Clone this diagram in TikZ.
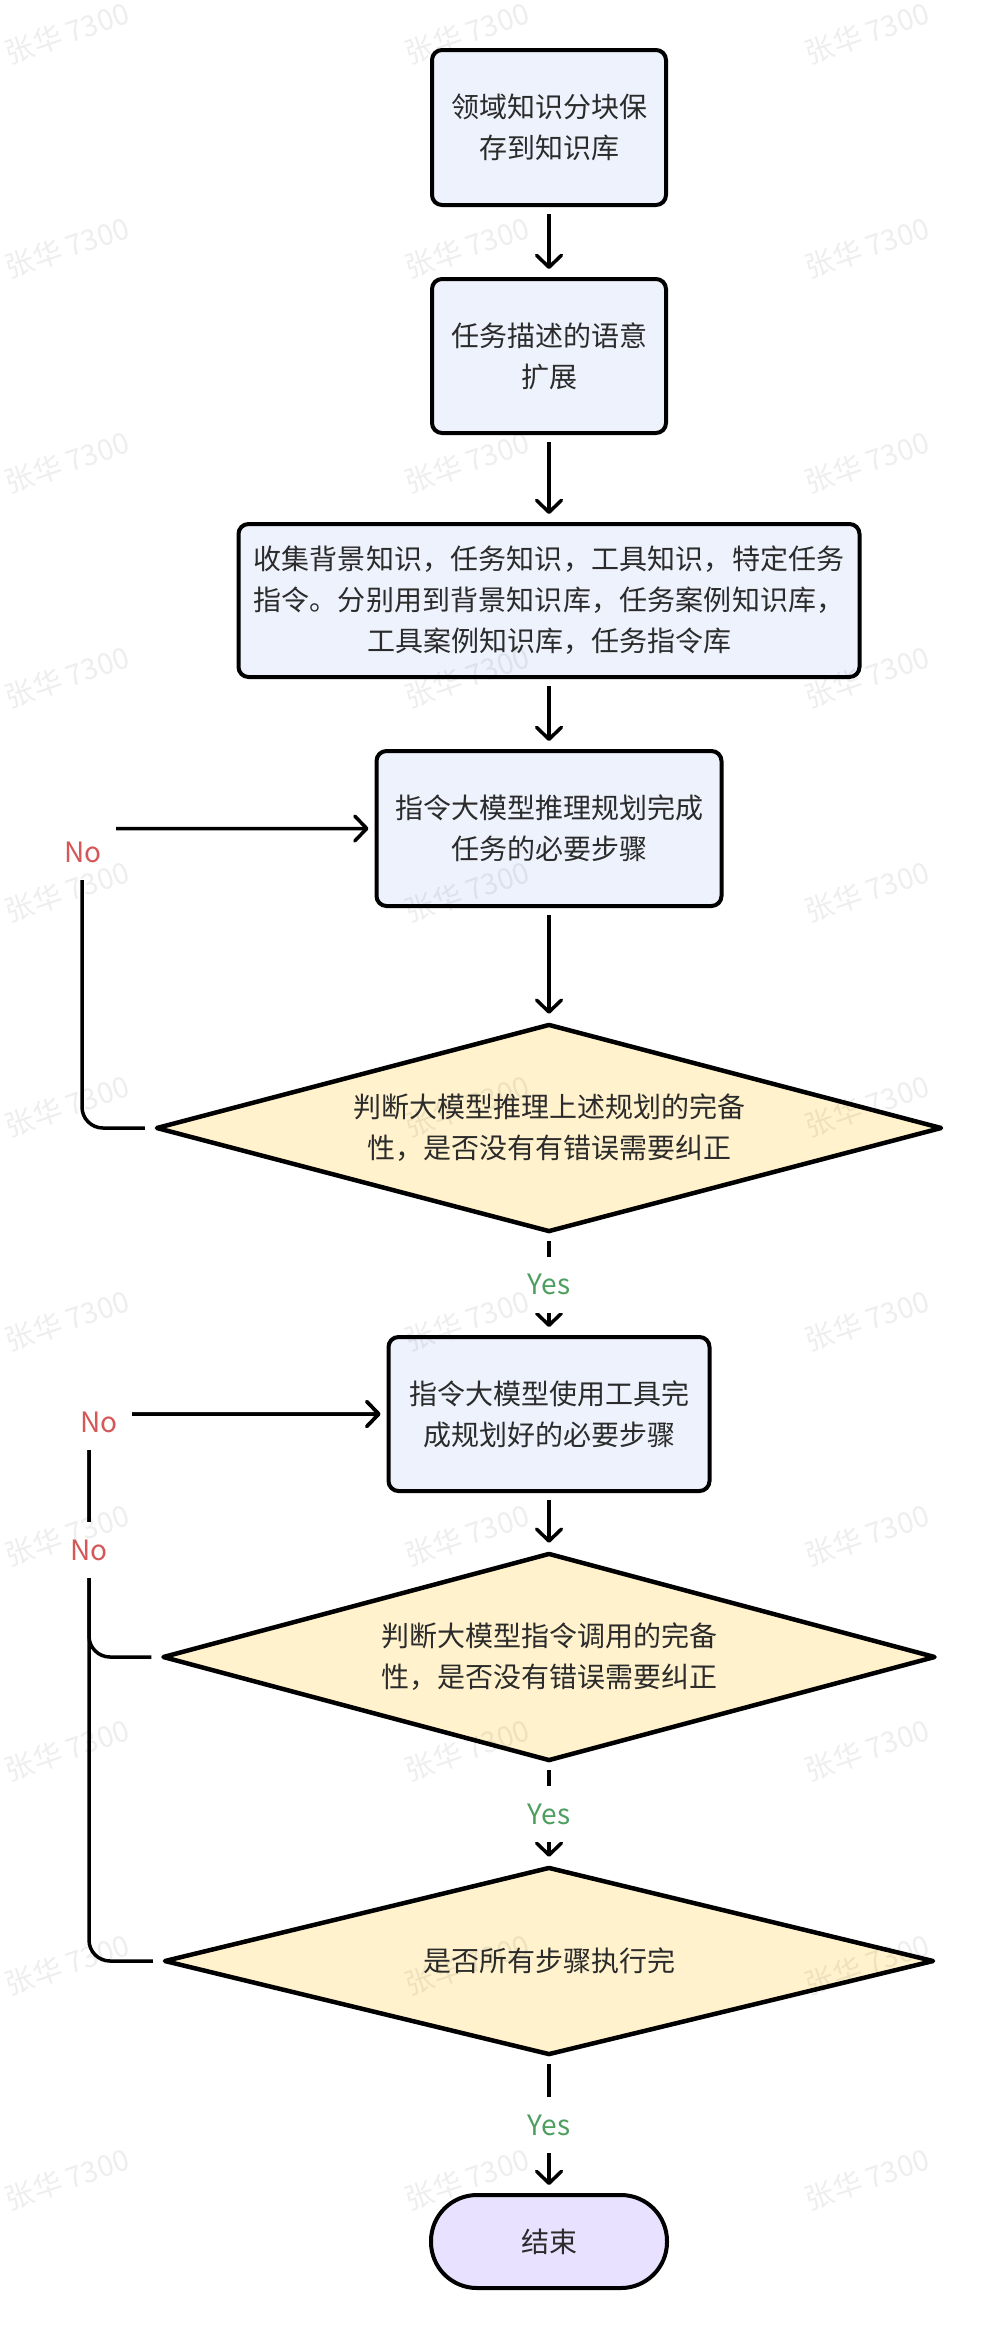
\documentclass[tikz,border=0pt]{standalone}
\usepackage{fontspec}
\setmainfont{Noto Sans CJK SC}
\usetikzlibrary{arrows.meta,shapes.geometric}
\definecolor{boxfill}{HTML}{EEF2FC}
\definecolor{diafill}{HTML}{FFF2CC}
\definecolor{endfill}{HTML}{E8E1FF}
\definecolor{txt}{HTML}{2B2B2B}
\definecolor{yesc}{HTML}{4E9E60}
\definecolor{noc}{HTML}{D65757}
\makeatletter
\newcommand\spreadchars[2]{\hbox to #1{\@tfor\sp@tok:=#2\do{\sp@tok\hfil}\unskip}}
\makeatother
\begin{document}
\begin{tikzpicture}[x=1pt,y=-1pt,
  every node/.style={font=\fontsize{28pt}{41pt}\selectfont, text=txt},
  box/.style={draw=black, line width=4pt, fill=boxfill, rounded corners=10pt, align=center, inner sep=0pt},
  dia/.style={diamond, draw=black, line width=4.5pt, fill=diafill, line join=round, align=center, inner sep=0pt, aspect=3.8},
  endn/.style={draw=black, line width=4pt, fill=endfill, rounded corners=46pt, inner sep=0pt, minimum width=236pt, minimum height=93pt},
  arr/.style={draw=black, line width=3.5pt, -{Straight Barb[length=12pt,width=25pt,round]}, shorten <=7pt, shorten >=8pt},
  lbl/.style={fill=white, inner sep=0pt, minimum height=56pt, minimum width=66pt},
  yes/.style={lbl, text=yesc},
  no/.style={lbl, text=noc},
  wm/.style={rotate=19, text=black, opacity=0.065, font=\fontsize{29pt}{32pt}\selectfont}
]
\fill[white] (0,0) rectangle (990,2340);
\useasboundingbox (0,0) rectangle (990,2340);

\node[box, minimum width=234pt, minimum height=155pt] (b1) at (549,127.5) {领域知识分块保\\存到知识库};
\node[box, minimum width=234pt, minimum height=154pt] (b2) at (549,356) {任务描述的语意\\扩展};
\node[box, minimum width=621pt, minimum height=153pt] (b3) at (549,600.5) {\spreadchars{591pt}{收集背景知识，任务知识，工具知识，特定任务}\\\spreadchars{591pt}{指令。分别用到背景知识库，任务案例知识库，}\\工具案例知识库，任务指令库};
\node[box, minimum width=345pt, minimum height=155pt] (b4) at (549,828.5) {\spreadchars{308pt}{指令大模型推理规划完成}\\任务的必要步骤};
\node[dia, minimum width=786pt, minimum height=208pt] (d1) at (549,1128) {判断大模型推理上述规划的完备\\性，是否没有有错误需要纠正};
\node[box, minimum width=321pt, minimum height=154pt] (b5) at (549,1414) {指令大模型使用工具完\\成规划好的必要步骤};
\node[dia, minimum width=773pt, minimum height=208pt] (d2) at (549,1657) {判断大模型指令调用的完备\\性，是否没有错误需要纠正};
\node[dia, minimum width=770pt, minimum height=188pt] (d3) at (549,1961) {是否所有步骤执行完};
\node[endn] (e) at (549,2241.5) {结束};

\draw[arr] (b1.south) -- (b2.north);
\draw[arr] (b2.south) -- (b3.north);
\draw[arr] (b3.south) -- (b4.north);
\draw[arr] (b4.south) -- (d1.north);
\draw[arr] (d1.south) -- node[yes] (y1) {Yes} (b5.north);
\draw[arr] (b5.south) -- (d2.north);
\draw[arr] (d2.south) -- node[yes] (y2) {Yes} (d3.north);
\draw[arr] (d3.south) -- node[yes] (y3) {Yes} (e.north);

\coordinate (k1) at (82,828.5);
\draw[arr, rounded corners=21pt, shorten <=9pt, shorten >=6pt] (d1.west) -| (k1) -- (b4.west);
\node[no] (no1) at (83,852) {No};
\coordinate (k2) at (89,1414);
\draw[arr, rounded corners=21pt, shorten <=9pt, shorten >=6pt] (d2.west) -| (k2) -- (b5.west);
\draw[arr, rounded corners=21pt, shorten <=9pt, shorten >=6pt] (d3.west) -| (k2) -- (b5.west);
\node[no] (no2) at (99,1422) {No};
\node[no] (no3) at (89,1550) {No};

\foreach \r in {0,...,10}{\foreach \c in {67,467,867}{\node[wm] (wm-\r-\c) at (\c,{33+214.6*\r}) {张华 7300};}}
\end{tikzpicture}
\end{document}
